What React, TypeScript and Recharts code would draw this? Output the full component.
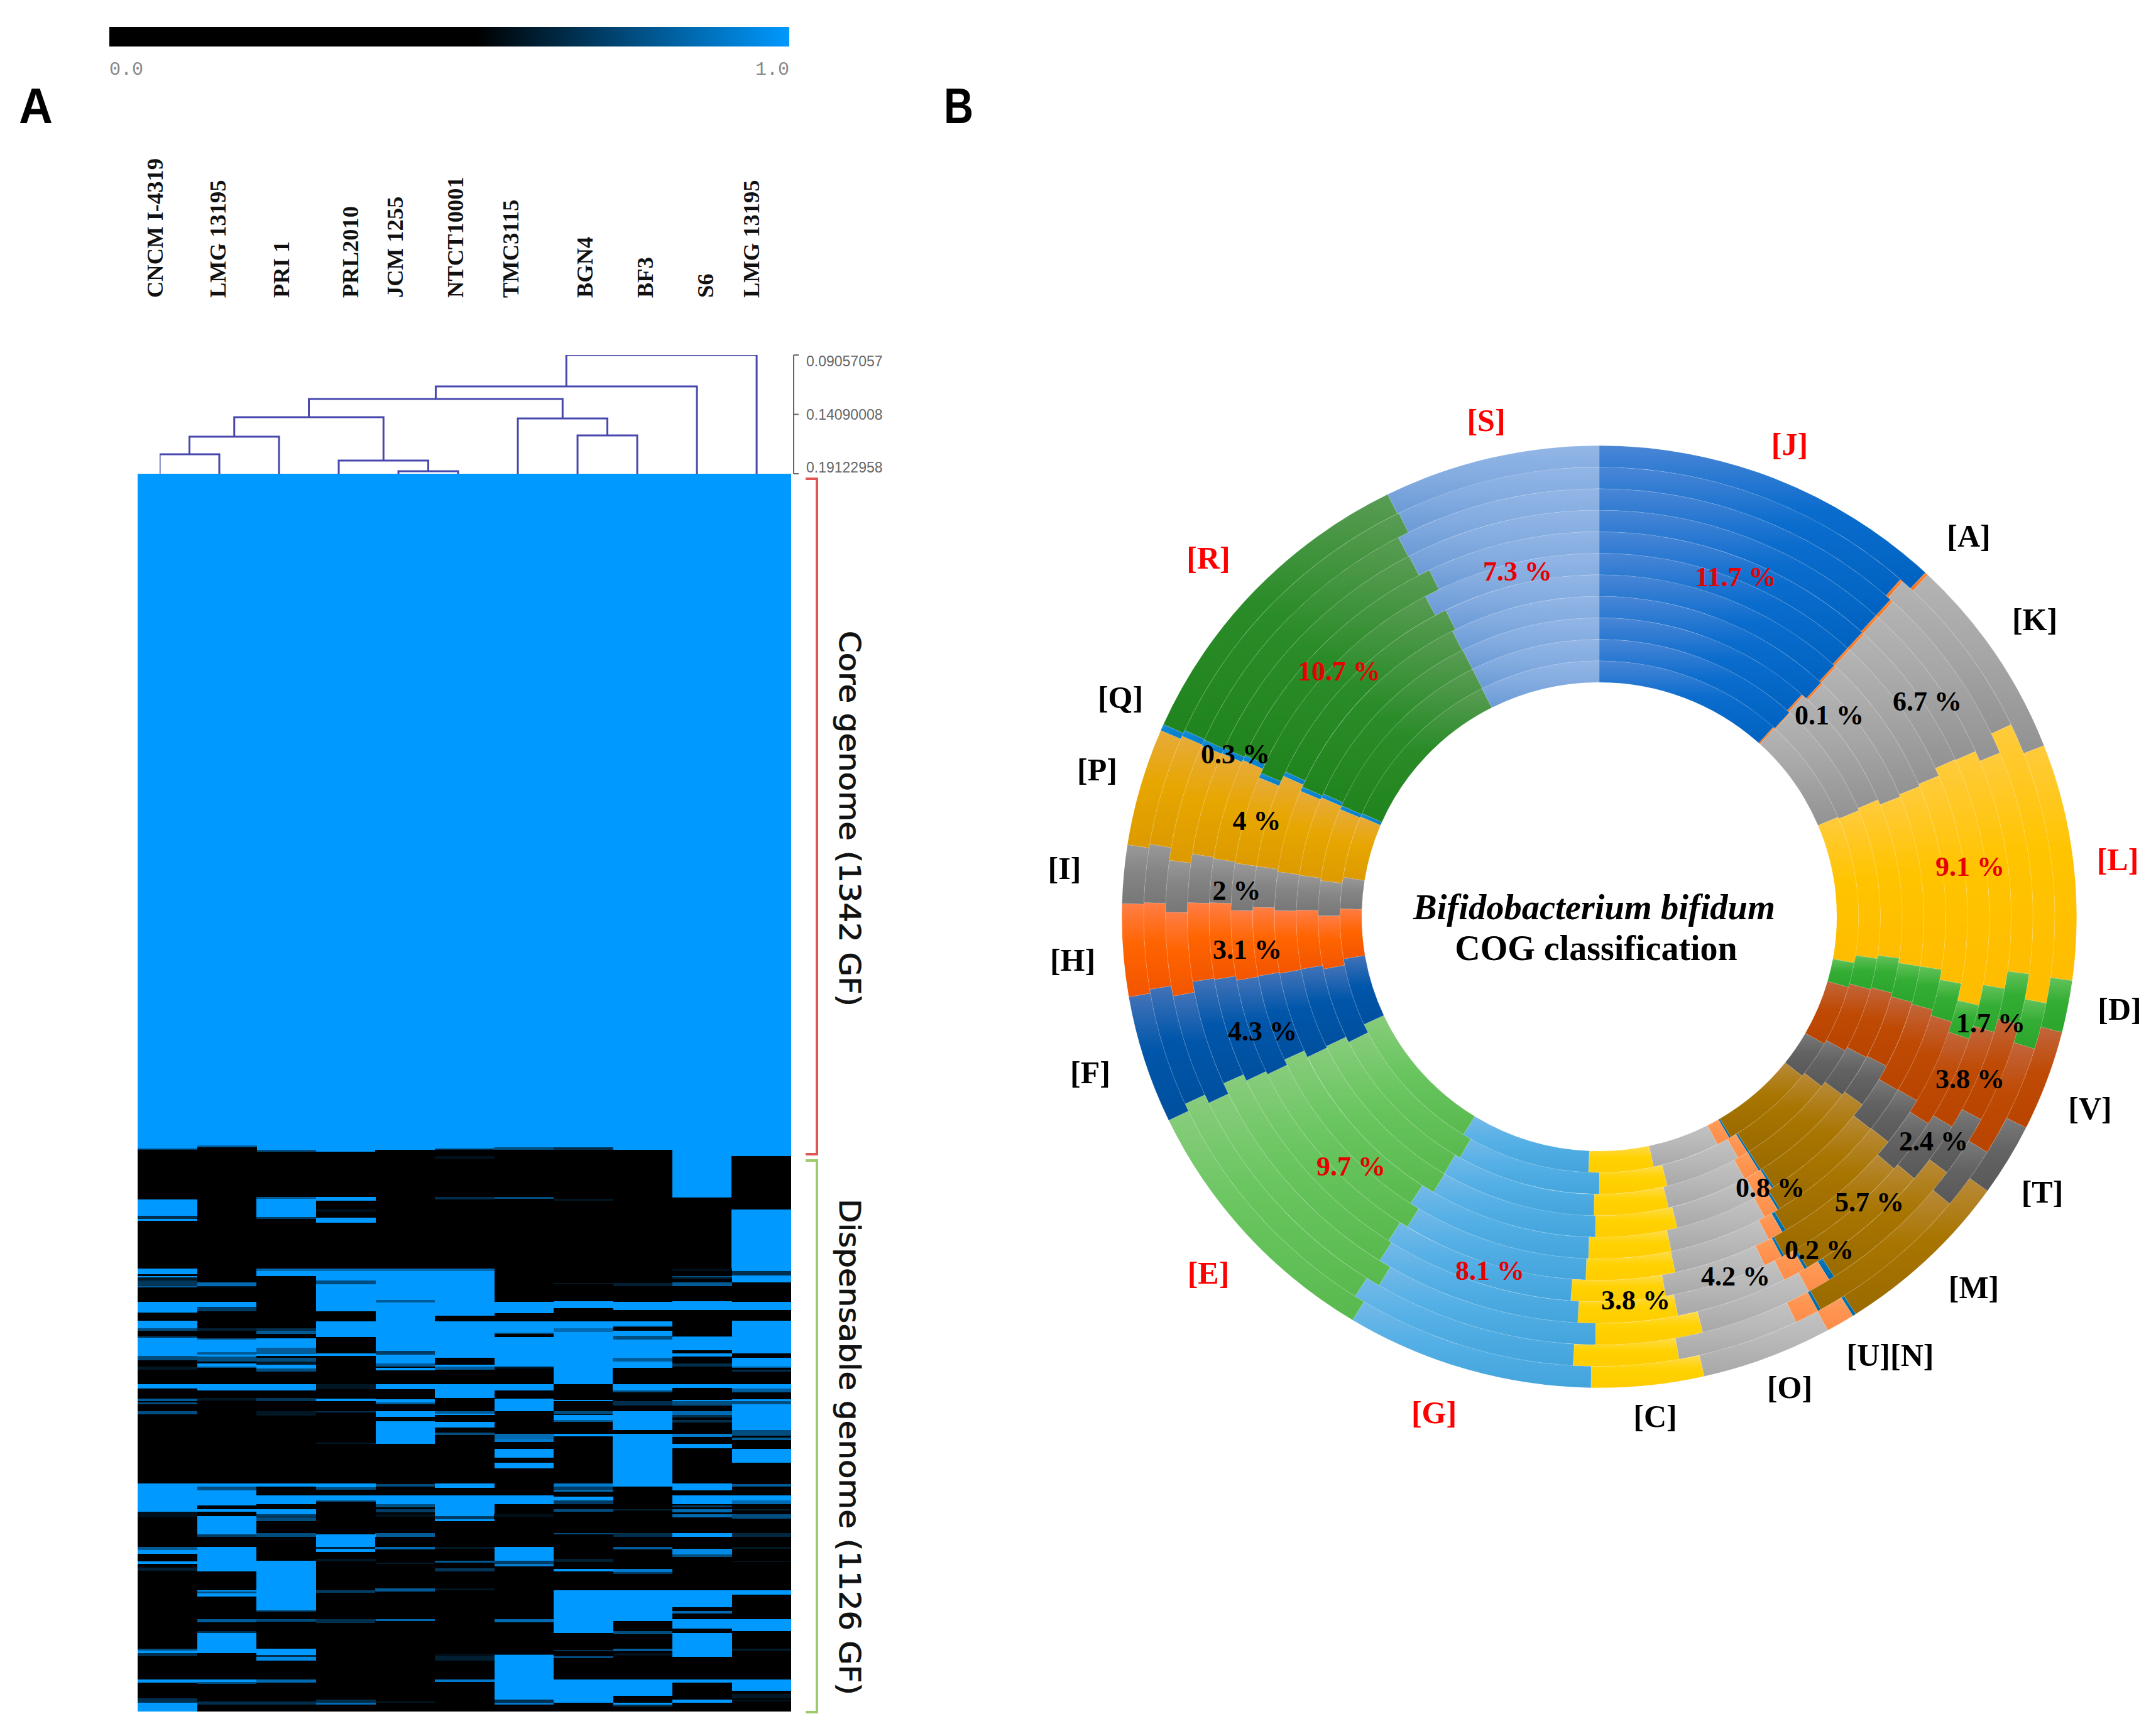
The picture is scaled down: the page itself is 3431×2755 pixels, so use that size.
import React from "react";
import {
  BarChart,
  Bar,
  Cell,
  LineChart,
  Line,
  PieChart,
  Pie,
  XAxis,
  YAxis,
} from "recharts";

// ---- panel A: strains, dendrogram and heatmap ----
const strains = [
  "CNCM I-4319", "LMG 13195", "PRI 1", "PRL2010", "JCM 1255", "NTCT10001",
  "TMC3115", "BGN4", "BF3", "S6", "LMG 13195",
];

const dendroTicks = [0.09057057, 0.14090008, 0.19122958];
// ids 0-10 are the strains, id 11 is the first merge and so on
const dendroPairs = [
  [0, 1], [11, 2], [4, 5], [3, 13], [12, 14], [7, 8], [6, 16], [15, 17], [18, 9], [19, 10],
];
const dendroHeights = [
  0.1747, 0.1598, 0.1891, 0.1801, 0.1433, 0.1587, 0.1444, 0.1279, 0.1172, 0.09057057,
];

const totalFamilies = 2469;

// each column: [last gene family of the run, heat value]
const heatColumns: number[][][] = [
  [[1346,1],[1349,.4],[1448,0],[1480,1],[1486,.3],[1490,1],[1586,0],[1597,1],[1600,0],[1603,1],[1609,.15],[1621,.35],[1623,.6],[1652,0],[1672,1],[1675,.6],[1689,0],[1705,1],[1709,.5],[1720,0],[1723,.3],[1760,1],[1768,.5],[1781,0],[1787,.15],[1816,0],[1823,1],[1826,.5],[1845,0],[1850,.6],[1853,0],[1856,.5],[1870,0],[1876,.5],[2014,0],[2071,1],[2082,.1],[2141,0],[2147,.6],[2155,1],[2169,0],[2175,1],[2182,0],[2188,.2],[2344,0],[2347,.5],[2353,1],[2359,.3],[2405,0],[2411,1],[2443,0],[2452,.3],[2469,1]],
  [[1340,1],[1343,.6],[1613,0],[1621,.7],[1623,.15],[1652,0],[1662,1],[1671,.4],[1705,0],[1709,.2],[1724,0],[1727,.5],[1752,1],[1757,.6],[1761,1],[1771,.5],[1775,0],[1781,1],[1784,.5],[1816,0],[1828,1],[1844,0],[1848,.15],[2014,0],[2020,1],[2028,.5],[2058,1],[2066,0],[2071,1],[2079,0],[2116,1],[2120,.4],[2141,0],[2189,1],[2227,0],[2230,1],[2234,.5],[2240,1],[2285,0],[2291,.6],[2309,0],[2312,.3],[2353,1],[2405,0],[2410,1],[2414,.5],[2449,0],[2455,.3],[2469,0]],
  [[1349,1],[1352,.5],[1443,0],[1446,.6],[1483,1],[1486,.4],[1586,0],[1590,.7],[1600,1],[1705,0],[1709,.3],[1716,.6],[1724,0],[1743,1],[1756,.6],[1760,1],[1764,0],[1771,.5],[1777,.15],[1785,1],[1791,.5],[1816,0],[1829,1],[1844,0],[1850,.35],[1870,0],[1879,.15],[2014,0],[2020,1],[2038,0],[2055,1],[2066,0],[2076,1],[2080,.4],[2082,0],[2089,.5],[2113,0],[2120,.5],[2168,0],[2267,1],[2270,.4],[2285,0],[2290,.5],[2344,0],[2356,1],[2360,.3],[2367,.9],[2405,0],[2411,.7],[2449,0],[2455,.3],[2469,0]],
  [[1352,1],[1443,0],[1450,1],[1466,0],[1473,.1],[1484,0],[1494,1],[1586,0],[1590,.7],[1609,1],[1617,.5],[1671,1],[1691,0],[1722,1],[1754,0],[1760,1],[1816,0],[1826,.15],[1845,0],[1850,1],[1870,0],[1873,.3],[1932,0],[1935,.15],[2014,0],[2021,1],[2026,.5],[2038,0],[2048,1],[2051,.5],[2116,0],[2141,1],[2145,.2],[2151,1],[2165,0],[2170,.15],[2227,0],[2232,.4],[2285,0],[2292,.3],[2445,0],[2452,.3],[2455,.7],[2469,0]],
  [[1349,1],[1586,0],[1590,.7],[1648,1],[1653,.6],[1750,1],[1757,.4],[1775,1],[1781,.6],[1784,0],[1789,1],[1816,0],[1826,1],[1846,0],[1853,1],[1856,.6],[1870,0],[1881,1],[1890,0],[1935,1],[2015,0],[2020,.5],[2038,0],[2055,1],[2062,.5],[2065,0],[2072,.4],[2076,0],[2081,.1],[2113,0],[2120,.6],[2141,0],[2146,.7],[2172,0],[2175,.15],[2223,0],[2230,.6],[2285,0],[2288,.7],[2449,0],[2452,.15],[2469,0]],
  [[1346,1],[1349,.3],[1361,0],[1367,.1],[1442,0],[1448,.3],[1586,0],[1590,.7],[1680,1],[1691,0],[1764,1],[1777,0],[1781,1],[1787,.6],[1816,0],[1844,1],[1870,0],[1875,.6],[1878,1],[1891,0],[1902,1],[1912,0],[1917,.5],[2014,0],[2023,1],[2038,0],[2079,1],[2085,.4],[2089,1],[2141,0],[2144,.15],[2168,0],[2172,.6],[2183,0],[2189,.35],[2223,0],[2227,.15],[2354,0],[2359,.1],[2367,.2],[2405,0],[2410,.8],[2469,0]],
  [[1344,1],[1349,.5],[1443,0],[1446,.5],[1652,0],[1675,1],[1691,0],[1713,1],[1716,.5],[1722,0],[1781,1],[1785,.15],[1816,0],[1828,1],[1845,0],[1870,1],[1915,0],[1925,.7],[1931,.8],[1945,0],[1963,1],[1973,0],[1984,1],[2038,0],[2055,1],[2076,0],[2080,.1],[2141,0],[2168,1],[2175,.4],[2179,.8],[2285,0],[2291,.7],[2354,0],[2356,.3],[2445,1],[2452,.3],[2455,.8],[2469,0]],
  [[1344,1],[1349,.3],[1446,0],[1450,.15],[1614,0],[1616,.2],[1651,0],[1665,1],[1691,0],[1705,1],[1712,.7],[1816,1],[1847,0],[1850,1],[1870,0],[1876,.5],[1877,0],[1888,1],[1891,.6],[1915,0],[1920,1],[2014,0],[2020,.8],[2028,.4],[2030,.8],[2040,0],[2048,1],[2055,.4],[2066,0],[2071,.5],[2113,0],[2116,.5],[2165,0],[2171,.2],[2185,0],[2189,1],[2227,0],[2312,1],[2347,0],[2349,.9],[2359,0],[2362,.5],[2405,0],[2452,1],[2469,0]],
  [[1349,1],[1614,0],[1621,.2],[1652,0],[1668,1],[1691,0],[1699,1],[1702,.5],[1709,0],[1719,1],[1727,.5],[1764,1],[1771,.6],[1784,1],[1816,0],[1829,1],[1832,.5],[1850,0],[1859,.3],[1870,0],[1908,1],[1915,0],[2020,1],[2066,0],[2068,.2],[2113,0],[2120,.3],[2141,0],[2146,.6],[2185,0],[2191,.8],[2195,.4],[2227,0],[2288,1],[2309,0],[2315,.5],[2344,0],[2349,.6],[2353,0],[2358,.1],[2405,0],[2438,1],[2452,0],[2455,1],[2459,.3],[2469,0]],
  [[1443,1],[1445,.5],[1586,0],[1590,.1],[1600,0],[1603,.5],[1607,.15],[1613,0],[1620,.6],[1651,0],[1668,1],[1720,0],[1722,.5],[1748,1],[1754,0],[1761,1],[1775,0],[1781,.3],[1816,0],[1823,1],[1847,0],[1850,1],[1859,.5],[1870,0],[1877,.7],[1883,.3],[1887,0],[1892,.3],[1915,0],[1921,.8],[1935,0],[1944,1],[2014,0],[2028,1],[2038,0],[2055,1],[2058,0],[2062,.4],[2066,0],[2072,.7],[2076,0],[2082,.7],[2113,0],[2120,1],[2144,0],[2156,.9],[2161,.5],[2227,0],[2261,1],[2269,0],[2273,.7],[2285,0],[2303,1],[2312,0],[2360,1],[2405,0],[2411,1],[2445,0],[2452,1],[2469,0]],
  [[1361,1],[1467,0],[1590,1],[1599,.3],[1613,1],[1652,0],[1668,1],[1690,0],[1754,1],[1764,0],[1781,1],[1784,.6],[1787,0],[1791,.3],[1816,0],[1825,1],[1832,.6],[1846,0],[1850,1],[1856,.5],[1908,1],[1919,.5],[1923,0],[1927,.6],[1945,0],[1973,1],[2015,0],[2020,.6],[2038,0],[2048,1],[2055,.7],[2065,0],[2068,.2],[2076,0],[2084,.5],[2113,0],[2120,.25],[2141,0],[2144,.15],[2169,0],[2171,.15],[2227,0],[2236,1],[2285,0],[2309,1],[2344,0],[2347,.2],[2405,0],[2428,1],[2434,0],[2443,.15],[2445,0],[2449,.1],[2469,0]],
];

// ---- panel B: COG classes, each list is where the class ends on rings 0 (inner) to 10 (outer), in degrees clockwise from the top ----
const cogClasses = ["J", "A", "K", "L", "D", "V", "T", "M", "N", "U", "O", "C", "G", "E", "F", "H", "I", "P", "Q", "R", "S"];

const endJ = [42.2, 42.6, 42.0, 43.1, 42.7, 42.4, 42.4, 42.2, 42.2, 41.4, 43.1];
const endA = [42.6, 42.8, 42.4, 43.5, 43.1, 42.8, 42.8, 42.6, 42.6, 41.8, 43.5];
const endK = [67.1, 67.5, 67, 68, 67.6, 67.2, 65.9, 66, 67.5, 64.7, 68.7];
const endL = [100.4, 98.7, 98, 98.9, 98.9, 100.6, 103.3, 100.2, 97.7, 101.1, 97.8];
const endD = [106, 105.2, 104.8, 105.5, 105.8, 106.8, 108.5, 106.5, 104.6, 107.1, 104.2];
const endV = [119.8, 118.9, 118.1, 117.8, 120.5, 120.4, 122.5, 121.1, 118.3, 121.6, 116.6];
const endT = [128.5, 127.7, 126.6, 125.9, 128.4, 128.3, 130.9, 130.1, 126.7, 129.7, 125.6];
const endM = [149.5, 147.8, 147.8, 147.5, 148.6, 149.6, 151.7, 149.7, 147.2, 150.9, 147.5];
const endN = [149.9, 148.2, 148.2, 147.9, 149, 150.2, 152.1, 150.1, 148, 151.3, 147.9];
const endU = [152.9, 150.4, 151.3, 151, 151.5, 152.6, 154.9, 153.3, 151.1, 154.4, 151.4];
const endO = [167.9, 166, 166.8, 166.1, 168, 168.1, 170.2, 169, 166.2, 169.9, 167.3];
const endC = [182.4, 180, 181, 180.7, 181.8, 182.1, 184.2, 183, 180.5, 183.3, 181];
const endG = [211.6, 209.7, 210.8, 210.7, 213, 211.4, 212.7, 212.2, 210.5, 212.4, 211.1];
const endE = [245.1, 243.1, 244.3, 244, 245.3, 244.3, 244.8, 245.8, 244.2, 245.4, 244.4];
const endF = [260.5, 259.1, 259.9, 259.8, 260, 259.9, 260.6, 260.8, 259.3, 260.7, 260.2];
const endH = [271.8, 270.2, 271.3, 271.1, 271.6, 271, 272.1, 272, 270.6, 271.8, 271.6];
const endI = [278.9, 277.5, 278, 278.1, 278.5, 278.5, 278.7, 278.9, 277.6, 279.3, 278.8];
const endP = [293, 292.8, 293.5, 293.1, 294.3, 292.5, 294, 293.7, 293.6, 293.7, 293.3];
const endQ = [293.8, 293.6, 294.3, 293.9, 295.1, 293.3, 294.8, 294.5, 294.4, 294.5, 294.1];
const endR = [333.1, 333.2, 333.2, 333.1, 333.7, 331.8, 334.2, 332.5, 332.4, 333.9, 333.7];
const endS = [360, 360, 360, 360, 360, 360, 360, 360, 360, 360, 360];

const classEnds = [endJ, endA, endK, endL, endD, endV, endT, endM, endN, endU, endO, endC, endG, endE, endF, endH, endI, endP, endQ, endR, endS];

// top, middle, bottom of the fill of each class
const classShades: Record<string, string[]> = {
  J: ["#4a86d6", "#0a6ccd", "#0062c0"],
  A: ["#ff8a3c", "#ff7f27", "#f07018"],
  K: ["#b4b4b4", "#a6a6a6", "#929292"],
  L: ["#ffcb3c", "#ffc400", "#ffbc00"],
  D: ["#63c25a", "#33ad33", "#2ba52b"],
  V: ["#c2653c", "#bf4a04", "#b84400"],
  T: ["#7a7a7a", "#636363", "#585858"],
  M: ["#b88a38", "#a87500", "#9a6a00"],
  N: ["#0b78bd", "#0070b0", "#0068a4"],
  U: ["#ff9e5c", "#ff9450", "#fa8c48"],
  O: ["#c2c2c2", "#b8b8b8", "#a8a8a8"],
  C: ["#ffdb4a", "#ffd200", "#ffcc00"],
  G: ["#74b9e8", "#55b0e6", "#43a4dc"],
  E: ["#88cc7c", "#6ac660", "#58b94e"],
  F: ["#4473b8", "#0056aa", "#004f9e"],
  H: ["#ff7d45", "#ff6400", "#f25500"],
  I: ["#999999", "#858585", "#777777"],
  P: ["#e6ab3c", "#e8a600", "#dc9a00"],
  Q: ["#1990d8", "#0a85cf", "#0a7cc4"],
  R: ["#5a9c55", "#2a8c28", "#20841e"],
  S: ["#92b6e6", "#84ace0", "#6a9ad6"],
};

const redClasses = ["[S]", "[J]", "[L]", "[E]", "[G]", "[R]"];
const classLabels = ["[J]", "[S]", "[A]", "[K]", "[L]", "[D]", "[V]", "[T]", "[M]", "[U][N]", "[O]", "[C]", "[G]", "[E]", "[F]", "[H]", "[I]", "[P]", "[Q]", "[R]"];
const classLabelSpots = [
  [2848, 707], [2365, 669], [3133, 853], [3238, 986], [3370, 1368], [3373, 1606], [3326, 1764], [3250, 1897],
  [3141, 2049], [3008, 2157], [2848, 2208], [2634, 2254], [2282, 2248], [1923, 2026], [1735, 1707], [1707, 1528],
  [1694, 1382], [1746, 1225], [1783, 1110], [1923, 888],
];

const redPercents = ["11.7 %", "9.1 %", "8.1 %", "9.7 %", "10.7 %", "7.3 %"];
const percentLabels = ["11.7 %", "0.1 %", "6.7 %", "9.1 %", "1.7 %", "3.8 %", "2.4 %", "5.7 %", "0.8 %", "0.2 %", "4.2 %", "3.8 %", "8.1 %", "9.7 %", "4.3 %", "3.1 %", "2 %", "4 %", "0.3 %", "10.7 %", "7.3 %"];
const percentSpots = [
  [2762, 918], [2911, 1138], [3067, 1116], [3135, 1379], [3168, 1628], [3135, 1717], [3077, 1816], [2975, 1913],
  [2817, 1890], [2895, 1989], [2762, 2031], [2603, 2069], [2371, 2022], [2150, 1856], [2009, 1641], [1985, 1511],
  [1968, 1417], [2000, 1306], [1966, 1200], [2131, 1068], [2415, 909],
];

const strainSpots = [247, 347, 448, 558, 629, 725, 813, 931, 1027, 1123, 1196];

const heatColor = (h: number) => `rgb(0,${Math.round(153 * h)},${Math.round(255 * h)})`;

const heatRows = heatColumns.map((runs, col) => {
  const row: Record<string, number> = { col };
  let prev = 0;
  runs.forEach(([end], k) => {
    row[`r${k}`] = end - prev;
    prev = end;
  });
  return row;
});
const runCount = Math.max(...heatColumns.map((runs) => runs.length));

// dendrogram brackets from the merge table
const nodeX: number[] = strains.map((_, i) => i);
const nodeV: number[] = strains.map(() => dendroTicks[2]);
const brackets = dendroPairs.map(([a, b], i) => {
  const v = dendroHeights[i];
  const pts = [
    { x: nodeX[a], v: nodeV[a] },
    { x: nodeX[a], v },
    { x: nodeX[b], v },
    { x: nodeX[b], v: nodeV[b] },
  ];
  nodeX.push((nodeX[a] + nodeX[b]) / 2);
  nodeV.push(v);
  return pts;
});

const ringTable = (ring: number) =>
  cogClasses.map((name, i) => ({
    name,
    value: classEnds[i][ring] - (i === 0 ? 0 : classEnds[i - 1][ring]),
  }));
const ringIds = endS.map((_, i) => i);

const serif = "'Liberation Serif', serif";

const DendroTick = ({ x, y, payload }: any) => {
  const dy = payload.value === dendroTicks[0] ? 18 : payload.value === dendroTicks[2] ? -2 : 8;
  return (
    <text x={x + 10} y={y + dy} fontFamily="'Liberation Sans', sans-serif" fontSize={23} fill="#666">
      {payload.value.toFixed(8)}
    </text>
  );
};

export default function App() {
  return (
    <div style={{ position: "absolute", left: 0, top: 0, width: 3431, height: 2755, background: "#fff", overflow: "hidden" }}>
      {/* colour scale */}
      <div style={{ position: "absolute", left: 174, top: 43, width: 1082, height: 31, background: "linear-gradient(to right, #000 0%, #000 54%, #0099ff 100%)" }} />

      {/* heatmap */}
      <div style={{ position: "absolute", left: 219, top: 754 }}>
        <BarChart width={1040} height={1970} data={heatRows} barCategoryGap={0} margin={{ top: 0, right: 0, bottom: 0, left: 0 }} accessibilityLayer={false}>
          <XAxis dataKey="col" hide />
          <YAxis hide reversed domain={[0, totalFamilies]} />
          {Array.from({ length: runCount }, (_, k) => (
            <Bar key={k} dataKey={`r${k}`} stackId="heat" isAnimationActive={false} shapeRendering="crispEdges">
              {heatColumns.map((runs, c) => (
                <Cell key={c} fill={heatColor(runs[k] ? runs[k][1] : 0)} />
              ))}
            </Bar>
          ))}
        </BarChart>
      </div>

      {/* dendrogram */}
      <div style={{ position: "absolute", left: 254, top: 559 }}>
        <LineChart width={1179} height={201} margin={{ top: 6, right: 0, bottom: 6, left: 0 }} accessibilityLayer={false}>
          <XAxis type="number" dataKey="x" domain={[0, 10.62]} hide allowDataOverflow />
          <YAxis
            orientation="right"
            type="number"
            reversed
            width={170}
            domain={[dendroTicks[0], dendroTicks[2]]}
            ticks={dendroTicks}
            interval={0}
            tick={<DendroTick />}
            tickSize={8}
            stroke="#666"
            strokeWidth={2}
            allowDataOverflow
          />
          {brackets.map((pts, i) => (
            <Line key={i} data={pts} dataKey="v" type="linear" stroke="#4747ad" strokeWidth={3} dot={false} isAnimationActive={false} />
          ))}
        </LineChart>
      </div>

      {/* doughnut, one pie per ring; the figure is slightly wider than tall */}
      <div style={{ position: "absolute", left: 1744.5, top: 659, transform: "scaleY(0.987)", transformOrigin: "800px 800px" }}>
        <PieChart width={1600} height={1600} margin={{ top: 0, right: 0, bottom: 0, left: 0 }} accessibilityLayer={false}>
          <defs>
            {cogClasses.map((c) => (
              <linearGradient key={c} id={`cog-${c}`} x1="0" y1="0" x2="0" y2="1">
                <stop offset="0%" stopColor={classShades[c][0]} />
                <stop offset="45%" stopColor={classShades[c][1]} />
                <stop offset="100%" stopColor={classShades[c][2]} />
              </linearGradient>
            ))}
          </defs>
          {ringIds.map((ring) => (
            <Pie
              key={ring}
              data={ringTable(ring)}
              dataKey="value"
              cx={800}
              cy={800}
              innerRadius={378 + ring * 34.7}
              outerRadius={378 + (ring + 1) * 34.7}
              startAngle={90}
              endAngle={-270}
              stroke="#ffffff"
              strokeOpacity={0.08}
              strokeWidth={1.5}
              isAnimationActive={false}
              label={false}
              labelLine={false}
            >
              {cogClasses.map((c) => (
                <Cell key={c} fill={`url(#cog-${c})`} />
              ))}
            </Pie>
          ))}
        </PieChart>
      </div>

      {/* all text and the two brackets */}
      <svg width={3431} height={2755} style={{ position: "absolute", left: 0, top: 0, pointerEvents: "none" }}>
        <text x={174} y={119} fontFamily="'Liberation Mono', monospace" fontSize={30} fill="#888">0.0</text>
        <text x={1256} y={119} textAnchor="end" fontFamily="'Liberation Mono', monospace" fontSize={30} fill="#888">1.0</text>
        <text x={30} y={196} fontFamily="'Liberation Sans', sans-serif" fontWeight="bold" fontSize={80} textLength={54} lengthAdjust="spacingAndGlyphs" fill="#000">A</text>
        <text x={1502} y={196} fontFamily="'Liberation Sans', sans-serif" fontWeight="bold" fontSize={80} textLength={47} lengthAdjust="spacingAndGlyphs" fill="#000">B</text>

        {strains.map((s, i) => (
          <text key={i} transform={`translate(${strainSpots[i] + 12},474) rotate(-90)`} fontFamily={serif} fontWeight="bold" fontSize={36.5} fill="#111">{s}</text>
        ))}

        <path d="M1282 762 H1300 V1837 H1282" fill="none" stroke="#e25555" strokeWidth={4} />
        <path d="M1282 1847 H1300 V2725 H1282" fill="none" stroke="#9ccb6b" strokeWidth={4} />
        <text transform="translate(1336,1004) rotate(90)" fontFamily="'DejaVu Sans', sans-serif" fontSize={46} textLength={598} lengthAdjust="spacingAndGlyphs" fill="#111" stroke="#111" strokeWidth={0.8}>Core genome (1342 GF)</text>
        <text transform="translate(1336,1908) rotate(90)" fontFamily="'DejaVu Sans', sans-serif" fontSize={46} textLength={790} lengthAdjust="spacingAndGlyphs" fill="#111" stroke="#111" strokeWidth={0.8}>Dispensable genome (1126 GF)</text>

        <text x={2537} y={1444} textAnchor="middle" dominantBaseline="central" fontFamily={serif} fontWeight="bold" fontStyle="italic" fontSize={56.5} fill="#000">Bifidobacterium bifidum</text>
        <text x={2540} y={1509} textAnchor="middle" dominantBaseline="central" fontFamily={serif} fontWeight="bold" fontSize={56} fill="#000">COG classification</text>

        {classLabels.map((t, i) => (
          <text key={t} x={classLabelSpots[i][0]} y={classLabelSpots[i][1]} textAnchor="middle" dominantBaseline="central" fontFamily={serif} fontWeight="bold" fontSize={50} fill={redClasses.includes(t) ? "#ff0000" : "#000"}>{t}</text>
        ))}
        {percentLabels.map((t, i) => (
          <text key={i} x={percentSpots[i][0]} y={percentSpots[i][1]} textAnchor="middle" dominantBaseline="central" fontFamily={serif} fontWeight="bold" fontSize={44} fill={redPercents.includes(t) ? "#e60000" : "#000"}>{t}</text>
        ))}
      </svg>
    </div>
  );
}
